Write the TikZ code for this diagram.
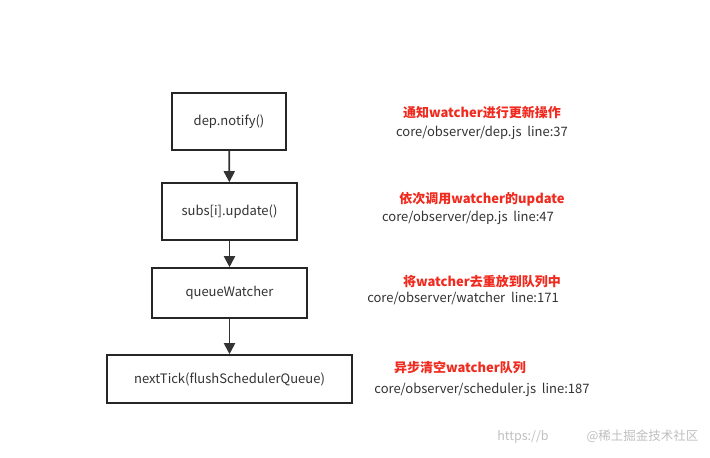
\documentclass[tikz,border=0pt]{standalone}
\usepackage{fontspec}
\setmainfont{Noto Sans CJK SC}
\usetikzlibrary{arrows.meta}
\definecolor{rd}{HTML}{F02A1E}
\definecolor{gr}{HTML}{333333}
\tikzset{x=1pt,y=-1pt,
 box/.style={draw=black!85,line width=1.6pt,minimum height=#1,font=\fontsize{13}{15}\selectfont,text=gr,inner sep=0pt},
 arr/.style={-{Triangle[length=11pt,width=11pt]},line width=1.8pt,draw=black!80},
 red/.style={text=rd,font=\fontsize{13}{15}\selectfont\bfseries},
 path/.style={text=gr,font=\fontsize{13}{15}\selectfont}}
\begin{document}
\begin{tikzpicture}
\useasboundingbox[fill=white] (0,0) rectangle (710,458);
\node[box=57pt,minimum width=114pt] (a) at (229,121.5) {dep.notify()};
\node[box=57pt,minimum width=135pt] (b) at (229.5,211.5) {subs[i].update()};
\node[box=50pt,minimum width=155pt] (c) at (229.5,293) {queueWatcher};
\node[box=48pt,minimum width=245pt] (d) at (229.5,379) {nextTick(flushSchedulerQueue)};
\draw[arr] (a) -- (b);
\draw[arr] (b) -- (c);
\draw[arr] (c) -- (d);
\node[red] (t1) at (482,113) {通知watcher进行更新操作};
\node[path] (p1) at (482,133) {core/observer/dep.js\ \ line:37};
\node[red] (t2) at (482,199) {依次调用watcher的update};
\node[path] (p2) at (468,218) {core/observer/dep.js\ \ line:47};
\node[red] (t3) at (482,282) {将watcher去重放到队列中};
\node[path] (p3) at (463,298) {core/observer/watcher\ \ line:171};
\node[red] (t4) at (460,368) {异步清空watcher队列};
\node[path] (p4) at (482,390) {core/observer/scheduler.js\ \ line:187};
\node[text=black!25,font=\fontsize{12.5}{14}\selectfont,anchor=east] (w) at (702,437) {https://b\hspace{38pt}@稀土掘金技术社区};
\end{tikzpicture}
\end{document}
